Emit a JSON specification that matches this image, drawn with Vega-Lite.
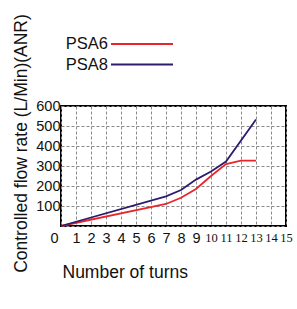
{
  "$schema": "https://vega.github.io/schema/vega-lite/v6.json",
  "width": 225,
  "height": 120,
  "autosize": {"type": "none"},
  "padding": {"left": 61, "top": 106, "right": 11, "bottom": 83},
  "background": "white",
  "config": {
    "view": {"stroke": "black", "strokeWidth": 2},
    "font": "Liberation Sans",
    "axis": {
      "grid": true,
      "gridDash": [3, 2],
      "gridColor": "#8a8a8a",
      "gridWidth": 1,
      "gridOpacity": 1,
      "domain": false,
      "ticks": false,
      "labelColor": "#111",
      "titleColor": "#111",
      "titleFontWeight": "normal",
      "labelOverlap": false,
      "labelBound": false,
      "labelFlush": false
    }
  },
  "data": {
    "values": [
      {"turns": 0, "flow": 0, "series": "PSA6"},
      {"turns": 7, "flow": 110, "series": "PSA6"},
      {"turns": 8, "flow": 141, "series": "PSA6"},
      {"turns": 9, "flow": 185, "series": "PSA6"},
      {"turns": 10, "flow": 250, "series": "PSA6"},
      {"turns": 11, "flow": 310, "series": "PSA6"},
      {"turns": 12, "flow": 327, "series": "PSA6"},
      {"turns": 13, "flow": 327, "series": "PSA6"},
      {"turns": 0, "flow": 0, "series": "PSA8"},
      {"turns": 7, "flow": 148, "series": "PSA8"},
      {"turns": 8, "flow": 180, "series": "PSA8"},
      {"turns": 9, "flow": 232, "series": "PSA8"},
      {"turns": 10, "flow": 272, "series": "PSA8"},
      {"turns": 11, "flow": 322, "series": "PSA8"},
      {"turns": 13, "flow": 533, "series": "PSA8"}
    ]
  },
  "mark": {"type": "line", "strokeWidth": 1.8},
  "encoding": {
    "x": {
      "field": "turns",
      "type": "quantitative",
      "scale": {"domain": [0, 15], "nice": false},
      "axis": {
        "values": [0,1,2,3,4,5,6,7,8,9,10,11,12,13,14,15],
        "title": "Number of turns",
        "titleFontSize": 17.5,
        "titleAnchor": "start",
        "titleAlign": "left",
        "titleBaseline": "alphabetic",
        "titleX": 1,
        "titleY": 51,
        "labelFontSize": {"condition": {"test": "datum.value >= 10", "value": 12.5}, "value": 14.5},
        "labelPadding": 5,
        "labelFont": {"condition": {"test": "datum.value >= 10", "value": "Liberation Sans Narrow"}, "value": "Liberation Sans"},
        "labelOffset": {"condition": {"test": "datum.value == 0", "value": -7}, "value": 0}
      }
    },
    "y": {
      "field": "flow",
      "type": "quantitative",
      "scale": {"domain": [0, 600], "nice": false},
      "axis": {
        "values": [0, 100, 200, 300, 400, 500, 600],
        "labelExpr": "datum.value == 0 ? '' : datum.label",
        "title": "Controlled flow rate  (L/Min)(ANR)",
        "titleFontSize": 17.5,
        "titleAngle": -90,
        "titleAlign": "center",
        "titleBaseline": "middle",
        "titleX": -40,
        "titleY": 37,
        "labelFontSize": 14.5,
        "labelPadding": 1
      }
    },
    "color": {
      "field": "series",
      "type": "nominal",
      "scale": {"domain": ["PSA6", "PSA8"], "range": ["#e8262b", "#2e1b6e"]},
      "legend": {
        "orient": "none",
        "legendX": 41,
        "legendY": -71,
        "title": null,
        "direction": "vertical",
        "symbolType": "M0,0H7.75",
        "symbolSize": 256,
        "symbolStrokeWidth": 2,
        "labelFontSize": 16.5,
        "labelAlign": "right",
        "labelOffset": -12,
        "labelColor": "#111",
        "rowPadding": 2.5,
        "padding": 0,
        "offset": 0
      }
    }
  }
}
